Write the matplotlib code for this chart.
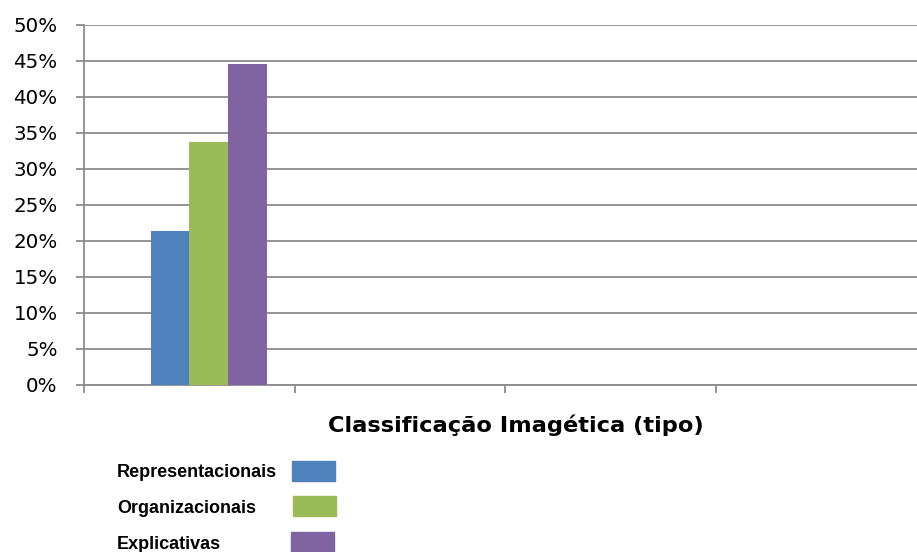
import matplotlib
matplotlib.use("Agg")
import matplotlib.pyplot as plt
from matplotlib.patches import Rectangle
from matplotlib.ticker import FuncFormatter, MultipleLocator

# Share of images by type (%)
series_names = ["Representacionais", "Organizacionais", "Explicativas"]
series_values = [21.4, 33.8, 44.6]
series_colors = ["#4f81bd", "#9bbb59", "#8064a2"]
n_categories = 4
x_title = "Classificação Imagética (tipo)"

W, H = 917, 552
fig = plt.figure(figsize=(W / 100, H / 100), dpi=100)

# plot area in pixels: left 84, right 926 (past the canvas edge), top 25, bottom 385
left, right, top, bottom = 84, 926, 25, 385
ax = fig.add_axes([left / W, (H - bottom) / H, (right - left) / W, (bottom - top) / H])

grid_c = "#8c8c8c"
bar_w = 0.184
slots = 4
for i, (name, val, col) in enumerate(zip(series_names, series_values, series_colors)):
    k = i + 1
    x = 0.5 + (k - (slots - 1) / 2) * bar_w
    ax.bar(x, val, width=bar_w, color=col, zorder=3, linewidth=0)

ax.set_xlim(0, n_categories)
ax.set_ylim(0, 50)
ax.yaxis.set_major_locator(MultipleLocator(5))
ax.yaxis.set_major_formatter(FuncFormatter(lambda v, p: f"{int(round(v))}%"))
ax.set_xticks(range(n_categories + 1))
ax.set_xticklabels([])
ax.grid(axis="y", color=grid_c, linewidth=1.3, zorder=0)
ax.set_axisbelow(True)

for s in ["top", "right"]:
    ax.spines[s].set_visible(False)
for s in ["left", "bottom"]:
    ax.spines[s].set_color(grid_c)
    ax.spines[s].set_linewidth(1.3)

ax.tick_params(axis="y", length=6, width=1.3, color=grid_c, pad=13,
               labelsize=14.3, labelcolor="#000000")
ax.tick_params(axis="x", length=6, width=1.3, color=grid_c, direction="out")
for lab in ax.get_yticklabels():
    lab.set_fontfamily("DejaVu Sans")

fig.text(516 / W, 1 - 432 / H, x_title, ha="center", va="baseline",
         fontsize=16.2, fontweight="bold", family="DejaVu Sans")

# legend rows
rows_base = [477, 513, 549]
patch_x = [292, 293, 291]
patch_top = [461, 496, 532]
for name, col, yb, px, pt in zip(series_names, series_colors, rows_base, patch_x, patch_top):
    fig.text(117 / W, 1 - yb / H, name, ha="left", va="baseline",
             fontsize=13, fontweight="bold", family="Liberation Sans")
    fig.patches.append(Rectangle((px / W, 1 - (pt + 20) / H), 43 / W, 20 / H,
                                 transform=fig.transFigure, color=col, zorder=2))

fig.savefig("out.png", dpi=100)
